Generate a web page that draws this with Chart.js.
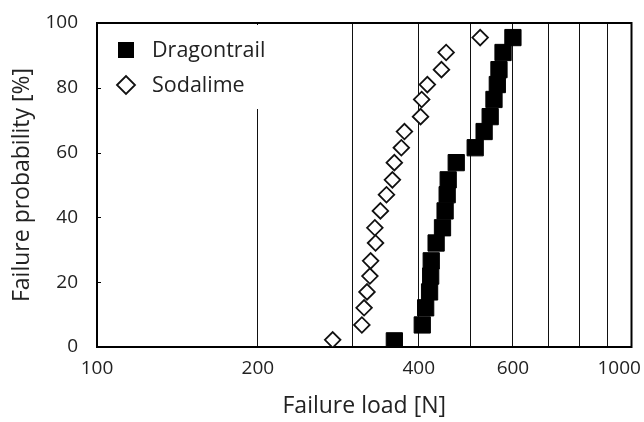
<!DOCTYPE html>
<html><head><meta charset="utf-8">
<script src="https://cdn.jsdelivr.net/npm/chart.js@4/dist/chart.umd.min.js"></script>
<style>html,body{margin:0;padding:0;background:#fff}#wrap{width:644px;height:422px;position:relative}</style>
</head><body><div id="wrap"><canvas id="c" width="644" height="422"></canvas></div>
<script>
const seriesNames = ['Dragontrail', 'Sodalime'];
const dragonLoad = [360, 406, 412, 419, 421, 422, 431, 443, 448, 452, 454, 470, 510, 530, 544, 553, 561, 565, 575, 600];
const dragonProb = [1.9, 6.8, 12.1, 17.0, 21.9, 26.6, 32.1, 36.8, 42.0, 47.0, 51.6, 56.9, 61.5, 66.5, 71.1, 76.4, 81.0, 85.6, 90.9, 95.5];
const sodaLoad = [276, 313, 316, 320, 324, 325, 332, 331, 339, 348, 357, 360, 371, 376, 403, 405, 415, 441, 450, 521];
const sodaProb = [2.2, 6.8, 12.1, 17.0, 21.9, 26.6, 32.1, 36.8, 42.0, 47.0, 51.6, 56.9, 61.5, 66.5, 71.1, 76.4, 81.0, 85.6, 90.9, 95.5];
const xGridValues = [100, 200, 300, 400, 500, 600, 700, 800, 900, 1000];
const xTickLabels = [100, 200, 400, 600, 1000];
const xAxisTitle = 'Failure load [N]';
const yAxisTitle = 'Failure probability [%]';

const FONT = "'Open Sans', 'DejaVu Sans', sans-serif";
const TXT = '#222';

const framePlugin = {
  id: 'frameLegend',
  beforeDatasetsDraw(chart) {
    const { ctx, chartArea: a } = chart;
    ctx.save();
    // legend background (covers grid lines)
    ctx.fillStyle = '#fff';
    ctx.fillRect(a.left + 2, a.top + 2, 195, 84);
    // frame
    ctx.strokeStyle = '#000';
    ctx.lineWidth = 2;
    ctx.strokeRect(a.left, a.top, a.right - a.left, a.bottom - a.top);
    // small inner ticks on y axis
    ctx.lineWidth = 1;
    const ys = chart.scales.y;
    [20, 40, 60, 80].forEach(v => {
      const py = Math.round(ys.getPixelForValue(v)) + 0.5;
      ctx.beginPath(); ctx.moveTo(a.left, py); ctx.lineTo(a.left + 4, py); ctx.stroke();
    });
    // legend
    const lx = a.left + 29, ly1 = a.top + 27, ly2 = a.top + 62;
    ctx.fillStyle = '#000';
    ctx.fillRect(lx - 8, ly1 - 8, 16, 16);
    ctx.beginPath();
    ctx.moveTo(lx - 9, ly2); ctx.lineTo(lx, ly2 - 9); ctx.lineTo(lx + 9, ly2); ctx.lineTo(lx, ly2 + 9); ctx.closePath();
    ctx.fillStyle = '#fff'; ctx.fill();
    ctx.strokeStyle = '#111'; ctx.lineWidth = 1.8; ctx.stroke();
    ctx.fillStyle = TXT;
    ctx.font = "21.5px " + FONT;
    ctx.textBaseline = 'middle';
    ctx.textAlign = 'left';
    ctx.fillText(seriesNames[0], lx + 26, ly1 + 1);
    ctx.fillText(seriesNames[1], lx + 26, ly2 + 1);
    ctx.restore();
  }
};

new Chart(document.getElementById('c'), {
  type: 'scatter',
  data: {
    datasets: [
      {
        label: seriesNames[0],
        data: dragonLoad.map((v, i) => ({ x: v, y: dragonProb[i] })),
        pointStyle: 'rect', pointRadius: 11.5, pointHoverRadius: 11.5,
        backgroundColor: '#000', borderColor: '#000', borderWidth: 1
      },
      {
        label: seriesNames[1],
        data: sodaLoad.map((v, i) => ({ x: v, y: sodaProb[i] })),
        pointStyle: 'rectRot', pointRadius: 7.8, pointHoverRadius: 7.8,
        backgroundColor: '#fff', borderColor: '#111', borderWidth: 1.8
      }
    ]
  },
  options: {
    responsive: false, devicePixelRatio: 1, animation: false,
    layout: { padding: { top: 23, right: 11, bottom: 0, left: 0 } },
    plugins: { legend: { display: false }, tooltip: { enabled: false } },
    scales: {
      x: {
        type: 'logarithmic', min: 100, max: 1000,
        afterBuildTicks: s => { s.ticks = xGridValues.map(v => ({ value: v })); },
        afterFit: s => { s.height = 75; s.paddingLeft = 0; s.paddingRight = 0; },
        ticks: {
          autoSkip: false, maxRotation: 0, minRotation: 0, padding: 10, color: TXT,
          font: { family: FONT, size: 19 },
          callback: v => xTickLabels.includes(v) ? (v === 1000 ? '1000     ' : String(v)) : ''
        },
        grid: {
          drawTicks: false, lineWidth: 1,
          color: c => (c.tick && c.tick.value > 100 && c.tick.value < 1000) ? '#111' : 'rgba(0,0,0,0)'
        },
        border: { display: false },
        title: { display: true, text: xAxisTitle, color: TXT, font: { family: FONT, size: 23 }, padding: { top: 0, bottom: 2 } }
      },
      y: {
        min: 0, max: 100,
        afterFit: s => { s.width = 97; s.paddingTop = 0; s.paddingBottom = 0; },
        ticks: { stepSize: 20, padding: 19, color: TXT, font: { family: FONT, size: 19 } },
        grid: { display: false, drawTicks: false },
        border: { display: false },
        title: { display: true, text: yAxisTitle, color: TXT, font: { family: FONT, size: 23 }, padding: { top: 9, bottom: 0 } }
      }
    }
  },
  plugins: [framePlugin]
});
</script></body></html>
